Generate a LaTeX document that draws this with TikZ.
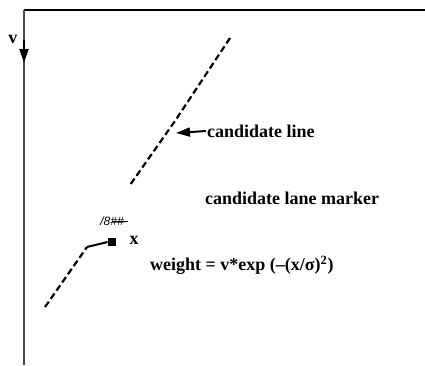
\documentclass[tikz,border=0pt]{standalone}
\usepackage{fontspec}
\setmainfont{Liberation Serif}
\newfontfamily\scribblefont{Liberation Sans}
\usetikzlibrary{arrows.meta}
\tikzset{
  lbl/.style={font=\fontsize{18}{20}\selectfont\bfseries, inner sep=0pt},
  dashline/.style={line width=2.2pt, dash pattern=on 6.5pt off 3.5pt},
  axis/.style={line width=1.4pt, black!70},
  bigarrow/.style={line width=2pt, -{Triangle[length=14pt,width=9pt]}},
}
\begin{document}
\begin{tikzpicture}[x=1pt,y=-1pt]
\useasboundingbox (0,0) rectangle (425,365);
% frame lines
\coordinate (tl) at (24,10);
\coordinate (tr) at (425,10);
\coordinate (ab) at (24,365);
\coordinate (at0) at (24,40);
\coordinate (at1) at (24,63);
\draw[line width=2pt] (tl) -- (tr);
\draw[axis] (tl) -- (ab);
\draw[bigarrow] (at0) -- (at1);
\node[lbl] (v) at (13,39) {v};
% candidate line (upper dashed)
\coordinate (u1) at (230,38);
\coordinate (u2) at (175,121);
\coordinate (u3) at (130,185);
\draw[dashline] (u1) -- (u2) -- (u3);
% candidate lane marker (lower dashed)
\coordinate (l1) at (45,307);
\coordinate (l2) at (87,247);
\draw[dashline] (l1) -- (l2);
\node[fill=black, minimum size=8.5pt, inner sep=0pt] (sq) at (112,242) {};
\draw[line width=2pt] (l2) -- (sq.west);
\node[lbl] (x) at (134,240) {x};
% scribble
\node[inner sep=0pt, font=\scribblefont\itshape\fontsize{12}{13}\selectfont] (scr) at (112,221) {/8\#\#};
\coordinate (scrend) at (128,221);
\draw[line width=0.8pt] (scr.center) -- (scrend);
% labels
\node[lbl, anchor=west] (cl) at (207,131) {candidate line};
\coordinate (clt) at (176,133);
\draw[bigarrow] (cl.west) ++(-1,0) coordinate (cls) -- (clt);
\node[lbl] (clm) at (292,198) {candidate lane marker};
\node[lbl, anchor=west] (w) at (150,265) {weight = v*exp (--(x/σ)\textsuperscript{2})};
\end{tikzpicture}
\end{document}
